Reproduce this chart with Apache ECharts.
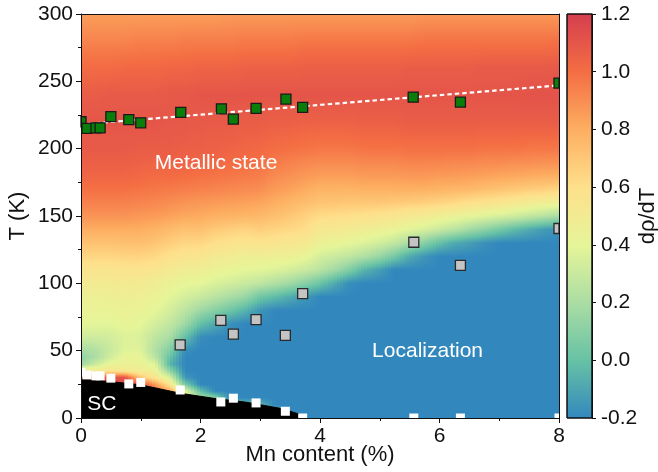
<!DOCTYPE html>
<html>
<head>
<meta charset="utf-8">
<script src="https://cdn.jsdelivr.net/npm/echarts@6/dist/echarts.min.js"></script>
<style>
  html, body { margin: 0; padding: 0; background: #ffffff; }
  #chart { width: 658px; height: 472px; }
</style>
</head>
<body>
<div id="chart"></div>
<script>
// dρ/dT map: Mn content columns (%) and temperature rows (K)
const mnColumns = [0, 0.25, 0.5, 0.75, 1, 1.25, 1.5, 1.75, 2, 2.25, 2.5, 2.75, 3, 3.25, 3.5, 3.75,
                   4, 4.25, 4.5, 4.75, 5, 5.25, 5.5, 5.75, 6, 6.25, 6.5, 6.75, 7, 7.25, 7.5, 7.75, 8];
const tempRows = [0, 5, 10, 15, 20, 25, 30, 35, 40, 45, 50, 60, 70, 80, 90, 100, 110, 120, 130, 140,
                  150, 160, 170, 180, 190, 200, 220, 240, 260, 280, 300];

// dρ/dT along each Mn column, one value per entry of tempRows
const drhoByColumn = [
  [1.1,1.1,1.1,1.1,1.1,1.1,1.05,0.55,0.15,0.12,0.18,0.32,0.4,0.43,0.45,0.5,0.56,0.64,0.72,0.8, 0.88,0.94,0.99,1.03,1.06,1.08,1.1,1.07,1.01,0.93,0.85],
  [1.12,1.12,1.12,1.12,1.12,1.12,1.1,0.5,0.3,0.2,0.22,0.32,0.39,0.43,0.45,0.5,0.56,0.64,0.72,0.8, 0.88,0.94,0.99,1.03,1.06,1.08,1.1,1.07,1.01,0.93,0.85],
  [1.15,1.15,1.15,1.15,1.15,1.15,1.12,0.55,0.42,0.33,0.3,0.33,0.39,0.43,0.46,0.5,0.56,0.64,0.72,0.8, 0.88,0.94,0.99,1.03,1.06,1.08,1.1,1.08,1.01,0.93,0.85],
  [1.15,1.15,1.15,1.15,1.15,1.15,1.1,0.52,0.45,0.42,0.38,0.37,0.41,0.44,0.47,0.51,0.57,0.65,0.73,0.8, 0.88,0.94,0.99,1.03,1.06,1.08,1.1,1.08,1.02,0.93,0.85],
  [1.12,1.12,1.12,1.12,1.12,1.12,0.72,0.48,0.44,0.42,0.38,0.36,0.4,0.43,0.46,0.5,0.57,0.65,0.73,0.8, 0.87,0.93,0.98,1.02,1.05,1.07,1.1,1.08,1.02,0.94,0.85],
  [1.05,1.05,1.05,1.05,1.05,0.85,0.55,0.45,0.38,0.26,0.22,0.27,0.34,0.4,0.44,0.48,0.55,0.63,0.71,0.78, 0.86,0.92,0.97,1.01,1.04,1.07,1.1,1.08,1.02,0.94,0.85],
  [0.8,0.8,0.8,0.8,0.8,0.55,0.35,0.12,-0.05,0.0,0.08,0.2,0.28,0.34,0.39,0.44,0.51,0.59,0.67,0.75, 0.84,0.9,0.96,1.01,1.05,1.07,1.09,1.09,1.03,0.94,0.85],
  [0.45,0.45,0.45,0.45,0.4,0.05,-0.15,-0.2,-0.2,-0.2,-0.18,0.0,0.17,0.26,0.34,0.41,0.48,0.56,0.64,0.72, 0.82,0.88,0.95,1.0,1.04,1.06,1.09,1.09,1.03,0.95,0.85],
  [0.2,0.2,0.2,0.2,0.0,-0.2,-0.2,-0.2,-0.2,-0.2,-0.2,-0.18,0.0,0.17,0.3,0.4,0.47,0.55,0.64,0.73, 0.81,0.87,0.94,0.99,1.03,1.06,1.08,1.1,1.04,0.95,0.85],
  [0.1,0.1,0.1,0.1,-0.2,-0.2,-0.2,-0.2,-0.2,-0.2,-0.2,-0.2,-0.08,0.1,0.25,0.36,0.44,0.51,0.6,0.69, 0.79,0.86,0.93,0.98,1.02,1.05,1.08,1.1,1.04,0.95,0.85],
  [0.05,0.05,0.05,-0.2,-0.2,-0.2,-0.2,-0.2,-0.2,-0.2,-0.2,-0.2,-0.17,0.03,0.2,0.33,0.42,0.49,0.58,0.67, 0.78,0.85,0.92,0.97,1.01,1.04,1.08,1.1,1.04,0.95,0.86],
  [0.0,0.0,0.0,-0.2,-0.2,-0.2,-0.2,-0.2,-0.2,-0.2,-0.2,-0.2,-0.2,-0.05,0.15,0.3,0.4,0.47,0.56,0.65, 0.77,0.84,0.91,0.96,1.0,1.03,1.07,1.1,1.05,0.96,0.86],
  [-0.05,-0.05,-0.05,-0.2,-0.2,-0.2,-0.2,-0.2,-0.2,-0.2,-0.2,-0.2,-0.2,-0.15,0.03,0.27,0.39,0.47,0.57,0.67, 0.76,0.83,0.9,0.95,0.99,1.02,1.07,1.1,1.05,0.96,0.86],
  [-0.1,-0.1,-0.2,-0.2,-0.2,-0.2,-0.2,-0.2,-0.2,-0.2,-0.2,-0.2,-0.2,-0.2,-0.02,0.22,0.37,0.46,0.56,0.65, 0.73,0.8,0.86,0.91,0.96,1.0,1.06,1.1,1.05,0.96,0.86],
  [-0.1,-0.2,-0.2,-0.2,-0.2,-0.2,-0.2,-0.2,-0.2,-0.2,-0.2,-0.2,-0.2,-0.2,-0.08,0.17,0.34,0.45,0.54,0.63, 0.7,0.77,0.84,0.89,0.94,0.99,1.06,1.1,1.05,0.96,0.86],
  [-0.2,-0.2,-0.2,-0.2,-0.2,-0.2,-0.2,-0.2,-0.2,-0.2,-0.2,-0.2,-0.2,-0.2,-0.15,0.1,0.3,0.42,0.52,0.61, 0.66,0.74,0.81,0.87,0.92,0.98,1.05,1.1,1.06,0.97,0.86],
  [-0.2,-0.2,-0.2,-0.2,-0.2,-0.2,-0.2,-0.2,-0.2,-0.2,-0.2,-0.2,-0.2,-0.2,-0.2,0.02,0.25,0.34,0.45,0.53, 0.62,0.71,0.78,0.85,0.91,0.97,1.05,1.1,1.06,0.97,0.86],
  [-0.2,-0.2,-0.2,-0.2,-0.2,-0.2,-0.2,-0.2,-0.2,-0.2,-0.2,-0.2,-0.2,-0.2,-0.2,-0.08,0.18,0.31,0.43,0.52, 0.61,0.71,0.78,0.85,0.91,0.97,1.05,1.1,1.06,0.97,0.86],
  [-0.2,-0.2,-0.2,-0.2,-0.2,-0.2,-0.2,-0.2,-0.2,-0.2,-0.2,-0.2,-0.2,-0.2,-0.2,-0.18,0.08,0.27,0.4,0.5, 0.6,0.7,0.78,0.85,0.91,0.97,1.05,1.1,1.06,0.97,0.86],
  [-0.2,-0.2,-0.2,-0.2,-0.2,-0.2,-0.2,-0.2,-0.2,-0.2,-0.2,-0.2,-0.2,-0.2,-0.2,-0.2,-0.05,0.22,0.37,0.48, 0.59,0.7,0.79,0.86,0.92,0.98,1.06,1.1,1.06,0.97,0.86],
  [-0.2,-0.2,-0.2,-0.2,-0.2,-0.2,-0.2,-0.2,-0.2,-0.2,-0.2,-0.2,-0.2,-0.2,-0.2,-0.2,-0.12,0.15,0.33,0.46, 0.57,0.7,0.79,0.86,0.92,0.98,1.06,1.1,1.06,0.97,0.86],
  [-0.2,-0.2,-0.2,-0.2,-0.2,-0.2,-0.2,-0.2,-0.2,-0.2,-0.2,-0.2,-0.2,-0.2,-0.2,-0.2,-0.2,0.05,0.28,0.43, 0.55,0.69,0.79,0.86,0.92,0.98,1.06,1.1,1.06,0.97,0.86],
  [-0.2,-0.2,-0.2,-0.2,-0.2,-0.2,-0.2,-0.2,-0.2,-0.2,-0.2,-0.2,-0.2,-0.2,-0.2,-0.2,-0.2,-0.08,0.2,0.39, 0.52,0.68,0.79,0.87,0.93,0.99,1.07,1.1,1.07,0.97,0.86],
  [-0.2,-0.2,-0.2,-0.2,-0.2,-0.2,-0.2,-0.2,-0.2,-0.2,-0.2,-0.2,-0.2,-0.2,-0.2,-0.2,-0.2,-0.15,0.1,0.35, 0.5,0.67,0.79,0.87,0.93,0.99,1.07,1.1,1.07,0.98,0.87],
  [-0.2,-0.2,-0.2,-0.2,-0.2,-0.2,-0.2,-0.2,-0.2,-0.2,-0.2,-0.2,-0.2,-0.2,-0.2,-0.2,-0.2,-0.2,0.0,0.3, 0.47,0.65,0.78,0.86,0.93,0.99,1.07,1.1,1.07,0.98,0.87],
  [-0.2,-0.2,-0.2,-0.2,-0.2,-0.2,-0.2,-0.2,-0.2,-0.2,-0.2,-0.2,-0.2,-0.2,-0.2,-0.2,-0.2,-0.2,-0.08,0.25, 0.44,0.63,0.77,0.86,0.92,0.99,1.07,1.1,1.07,0.98,0.87],
  [-0.2,-0.2,-0.2,-0.2,-0.2,-0.2,-0.2,-0.2,-0.2,-0.2,-0.2,-0.2,-0.2,-0.2,-0.2,-0.2,-0.2,-0.2,-0.12,0.18, 0.41,0.6,0.76,0.85,0.92,0.99,1.07,1.1,1.07,0.98,0.87],
  [-0.2,-0.2,-0.2,-0.2,-0.2,-0.2,-0.2,-0.2,-0.2,-0.2,-0.2,-0.2,-0.2,-0.2,-0.2,-0.2,-0.2,-0.2,-0.17,0.12, 0.38,0.58,0.74,0.84,0.91,0.98,1.07,1.1,1.08,0.98,0.87],
  [-0.2,-0.2,-0.2,-0.2,-0.2,-0.2,-0.2,-0.2,-0.2,-0.2,-0.2,-0.2,-0.2,-0.2,-0.2,-0.2,-0.2,-0.2,-0.2,0.05, 0.35,0.56,0.72,0.83,0.91,0.98,1.07,1.1,1.08,0.98,0.87],
  [-0.2,-0.2,-0.2,-0.2,-0.2,-0.2,-0.2,-0.2,-0.2,-0.2,-0.2,-0.2,-0.2,-0.2,-0.2,-0.2,-0.2,-0.2,-0.2,-0.02, 0.32,0.53,0.7,0.82,0.9,0.98,1.07,1.1,1.08,0.98,0.87],
  [-0.2,-0.2,-0.2,-0.2,-0.2,-0.2,-0.2,-0.2,-0.2,-0.2,-0.2,-0.2,-0.2,-0.2,-0.2,-0.2,-0.2,-0.2,-0.2,-0.08, 0.28,0.5,0.68,0.81,0.9,0.97,1.07,1.11,1.08,0.98,0.87],
  [-0.2,-0.2,-0.2,-0.2,-0.2,-0.2,-0.2,-0.2,-0.2,-0.2,-0.2,-0.2,-0.2,-0.2,-0.2,-0.2,-0.2,-0.2,-0.2,-0.13, 0.24,0.48,0.67,0.8,0.89,0.97,1.07,1.11,1.08,0.98,0.87],
  [-0.2,-0.2,-0.2,-0.2,-0.2,-0.2,-0.2,-0.2,-0.2,-0.2,-0.2,-0.2,-0.2,-0.2,-0.2,-0.2,-0.2,-0.2,-0.2,-0.17, 0.2,0.46,0.65,0.8,0.89,0.97,1.07,1.11,1.09,0.99,0.87]
];

// Superconducting boundary (black region)
const scBoundaryMn = [0, 0.5, 1.0, 1.66, 2.21, 2.77, 3.33, 3.61, 3.78];
const scBoundaryT  = [29, 27, 24.6, 18.4, 14.7, 11.7, 7.2, 3.5, 0];

// Metal-insulator crossover (green squares) and its linear trend
const metalMn = [0, 0.1, 0.25, 0.32, 0.5, 0.8, 1.0, 1.67, 2.35, 2.55, 2.93, 3.43, 3.71, 5.56, 6.35, 8.0];
const metalT  = [220, 215, 215.5, 215.5, 223.8, 221.5, 219.2, 226.9, 229.6, 221.9, 229.9, 236.8, 230.6, 238.3, 234.6, 248.7];
const trendMn = [0, 8];
const trendT  = [218, 247];

// Resistivity minimum (grey squares)
const minMn = [1.66, 2.34, 2.55, 2.93, 3.42, 3.71, 5.57, 6.35, 8.0];
const minT  = [54.3, 72.5, 62.3, 73, 61.3, 92.3, 130.5, 113.4, 140.7];

// Superconducting Tc (white squares)
const tcMn = [0, 0.1, 0.25, 0.32, 0.5, 0.8, 1.0, 1.66, 2.34, 2.55, 2.93, 3.42, 3.71, 5.57, 6.35, 8.0];
const tcT  = [34, 32, 31.3, 31.3, 29.6, 25.3, 26.4, 20.8, 11.9, 14.7, 11.2, 5.0, 0, 0, 0, 0];

// Region names
const regionLabels = ['Metallic state', 'Localization', 'SC'];
const regionLabelMn = [2.26, 5.8, 0.35];
const regionLabelT  = [189.5, 49.5, 10.4];

// Colour scale
const scaleMin = -0.2, scaleMax = 1.2;
const palette = ['#3288bd', '#66c2a5', '#abdda4', '#e6f598', '#fee08b', '#fdae61', '#f46d43', '#d53e4f'];

const FONT = '"Liberation Sans", Arial, sans-serif';
const INK = '#111111';

function hexToRgb(h) {
  const n = parseInt(h.slice(1), 16);
  return [(n >> 16) & 255, (n >> 8) & 255, n & 255];
}
const paletteRgb = palette.map(hexToRgb);

function colorOf(v) {
  let t = (v - scaleMin) / (scaleMax - scaleMin);
  t = Math.min(1, Math.max(0, t)) * (paletteRgb.length - 1);
  const i = Math.min(paletteRgb.length - 2, Math.floor(t));
  const f = t - i;
  const a = paletteRgb[i], b = paletteRgb[i + 1];
  const c = a.map((ch, k) => Math.round(ch + (b[k] - ch) * f));
  return 'rgb(' + c.join(',') + ')';
}

// Shaded strip between two neighbouring Mn columns
const STRIPS = 5, SUBSTOPS = 3;
function renderField(params, api) {
  const i = api.value(2);
  const colA = drhoByColumn[i], colB = drhoByColumn[i + 1];
  const tLo = tempRows[0], tHi = tempRows[tempRows.length - 1];
  const children = [];
  for (let s = 0; s < STRIPS; s++) {
    const f0 = s / STRIPS, f1 = (s + 1) / STRIPS, fm = (s + 0.5) / STRIPS;
    const x0 = api.value(0) + (api.value(1) - api.value(0)) * f0;
    const x1 = api.value(0) + (api.value(1) - api.value(0)) * f1;
    const pTop = api.coord([x0, tHi]);
    const pBot = api.coord([x1, tLo]);
    const stops = [];
    for (let j = 0; j < tempRows.length; j++) {
      const v = colA[j] + (colB[j] - colA[j]) * fm;
      stops.push({ offset: (tHi - tempRows[j]) / (tHi - tLo), color: colorOf(v) });
      if (j < tempRows.length - 1) {
        const vn = colA[j + 1] + (colB[j + 1] - colA[j + 1]) * fm;
        for (let k = 1; k <= SUBSTOPS; k++) {
          const g = k / (SUBSTOPS + 1);
          const tt = tempRows[j] + (tempRows[j + 1] - tempRows[j]) * g;
          stops.push({ offset: (tHi - tt) / (tHi - tLo), color: colorOf(v + (vn - v) * g) });
        }
      }
    }
    stops.sort((a, b) => a.offset - b.offset);
    const xl = Math.floor(pTop[0]);
    const xr = Math.ceil(pBot[0]) + 1;
    children.push({
      type: 'rect',
      shape: { x: xl, y: pTop[1], width: xr - xl, height: pBot[1] - pTop[1] },
      style: { fill: { type: 'linear', x: 0, y: 0, x2: 0, y2: 1, colorStops: stops, global: false } }
    });
  }
  return { type: 'group', children };
}

function squareMarkers(mnArr, tArr, size, fill, stroke, lineWidth, z) {
  return {
    type: 'custom',
    xAxisIndex: 0, yAxisIndex: 0, z,
    data: mnArr.map((m, k) => [m, tArr[k]]),
    renderItem(params, api) {
      const c = api.coord([api.value(0), api.value(1)]);
      const cs = params.coordSys;
      const r = echarts.graphic.clipRectByRect(
        { x: c[0] - size / 2, y: c[1] - size / 2, width: size, height: size },
        { x: cs.x, y: cs.y, width: cs.width, height: cs.height });
      if (!r) return null;
      return { type: 'rect', shape: r, style: { fill, stroke, lineWidth } };
    }
  };
}

const axisLineStyle = { color: INK, width: 1 };
const option = {
  animation: false,
  backgroundColor: '#ffffff',
  grid: [
    { left: 81, top: 14, width: 478, height: 404, outerBoundsMode: 'none', containLabel: false },
    { left: 567, top: 14, width: 25, height: 404, outerBoundsMode: 'none', containLabel: false }
  ],
  xAxis: [
    {
      gridIndex: 0, type: 'value', min: 0, max: 8, interval: 2, position: 'bottom', z: 10,
      axisLine: { show: true, onZero: false, lineStyle: axisLineStyle },
      axisTick: { show: true, inside: false, length: 5, lineStyle: axisLineStyle },
      minorTick: { show: true, splitNumber: 2, length: 3, lineStyle: axisLineStyle },
      splitLine: { show: false }, minorSplitLine: { show: false },
      axisLabel: { color: INK, fontSize: 21, fontFamily: FONT, margin: 8 },
      name: 'Mn content (%)', nameLocation: 'middle', nameGap: 26, nameMoveOverlap: false,
      nameTextStyle: { color: INK, fontSize: 22, fontFamily: FONT }
    },
    {
      gridIndex: 0, type: 'value', min: 0, max: 8, position: 'top', z: 10,
      axisLine: { show: true, onZero: false, lineStyle: axisLineStyle },
      axisTick: { show: false }, axisLabel: { show: false }, splitLine: { show: false }
    },
    { gridIndex: 1, type: 'value', min: 0, max: 1, show: false }
  ],
  yAxis: [
    {
      gridIndex: 0, type: 'value', min: 0, max: 300, interval: 50, position: 'left', z: 10,
      axisLine: { show: true, onZero: false, lineStyle: axisLineStyle },
      axisTick: { show: true, inside: false, length: 5, lineStyle: axisLineStyle },
      minorTick: { show: true, splitNumber: 2, length: 3, lineStyle: axisLineStyle },
      splitLine: { show: false }, minorSplitLine: { show: false },
      axisLabel: { color: INK, fontSize: 21, fontFamily: FONT, margin: 8 },
      name: 'T (K)', nameLocation: 'middle', nameGap: 52, nameRotate: 90, nameMoveOverlap: false,
      nameTextStyle: { color: INK, fontSize: 22, fontFamily: FONT }
    },
    {
      gridIndex: 0, type: 'value', min: 0, max: 300, position: 'right', z: 10,
      axisLine: { show: true, onZero: false, lineStyle: axisLineStyle },
      axisTick: { show: false }, axisLabel: { show: false }, splitLine: { show: false }
    },
    {
      gridIndex: 1, type: 'value', min: scaleMin, max: scaleMax, interval: 0.2, position: 'right', z: 10,
      axisLine: { show: true, onZero: false, lineStyle: axisLineStyle },
      axisTick: { show: true, inside: false, length: 4, lineStyle: axisLineStyle },
      splitLine: { show: false },
      axisLabel: {
        color: INK, fontSize: 21, fontFamily: FONT, margin: 9,
        formatter: v => (Math.abs(v) < 1e-9 ? 0 : v).toFixed(1)
      },
      name: 'dρ/dT', nameLocation: 'middle', nameGap: 45, nameRotate: 90, nameMoveOverlap: false,
      nameTextStyle: { color: INK, fontSize: 22, fontFamily: FONT }
    }
  ],
  series: [
    {
      type: 'custom', name: 'dρ/dT map', xAxisIndex: 0, yAxisIndex: 0, z: 1,
      data: mnColumns.slice(0, -1).map((m, i) => [m, mnColumns[i + 1], i]),
      renderItem: renderField
    },
    {
      type: 'line', name: 'SC', xAxisIndex: 0, yAxisIndex: 0, z: 2,
      data: scBoundaryMn.map((m, k) => [m, scBoundaryT[k]]),
      symbol: 'none', lineStyle: { color: '#000', width: 1 },
      areaStyle: { color: '#000', opacity: 1 }
    },
    {
      type: 'line', name: 'trend', xAxisIndex: 0, yAxisIndex: 0, z: 3,
      data: trendMn.map((m, k) => [m, trendT[k]]),
      symbol: 'none', lineStyle: { color: '#ffffff', width: 2.2, type: [4.5, 3] }
    },
    squareMarkers(tcMn, tcT, 9, '#ffffff', null, 0, 4),
    squareMarkers(minMn, minT, 10, '#c4c4c4', '#2a2a2a', 1.3, 5),
    squareMarkers(metalMn, metalT, 10, '#0b7d0b', '#1a1a1a', 1.3, 6),
    {
      type: 'custom', name: 'colour scale', xAxisIndex: 2, yAxisIndex: 2, z: 1,
      data: [[0, scaleMin, 1, scaleMax]],
      renderItem(params, api) {
        const pTop = api.coord([api.value(0), api.value(3)]);
        const pBot = api.coord([api.value(2), api.value(1)]);
        const stops = palette.map((c, k) => ({ offset: 1 - k / (palette.length - 1), color: c }))
          .sort((a, b) => a.offset - b.offset);
        return {
          type: 'rect',
          shape: { x: pTop[0], y: pTop[1], width: pBot[0] - pTop[0], height: pBot[1] - pTop[1] },
          style: {
            fill: { type: 'linear', x: 0, y: 0, x2: 0, y2: 1, colorStops: stops, global: false },
            stroke: INK, lineWidth: 1
          }
        };
      }
    }
  ]
};

const chart = echarts.init(document.getElementById('chart'), null, { renderer: 'canvas' });
chart.setOption(option);

// Region names placed at data positions
const graphics = regionLabels.map((txt, k) => {
  const p = chart.convertToPixel({ gridIndex: 0 }, [regionLabelMn[k], regionLabelT[k]]);
  return {
    type: 'text', x: p[0], y: p[1], z: 100,
    style: {
      text: txt, fill: '#ffffff', fontSize: 21, fontFamily: FONT,
      align: 'center', verticalAlign: 'middle', textAlign: 'center', textVerticalAlign: 'middle'
    }
  };
});
chart.setOption({ graphic: graphics });
</script>
</body>
</html>
